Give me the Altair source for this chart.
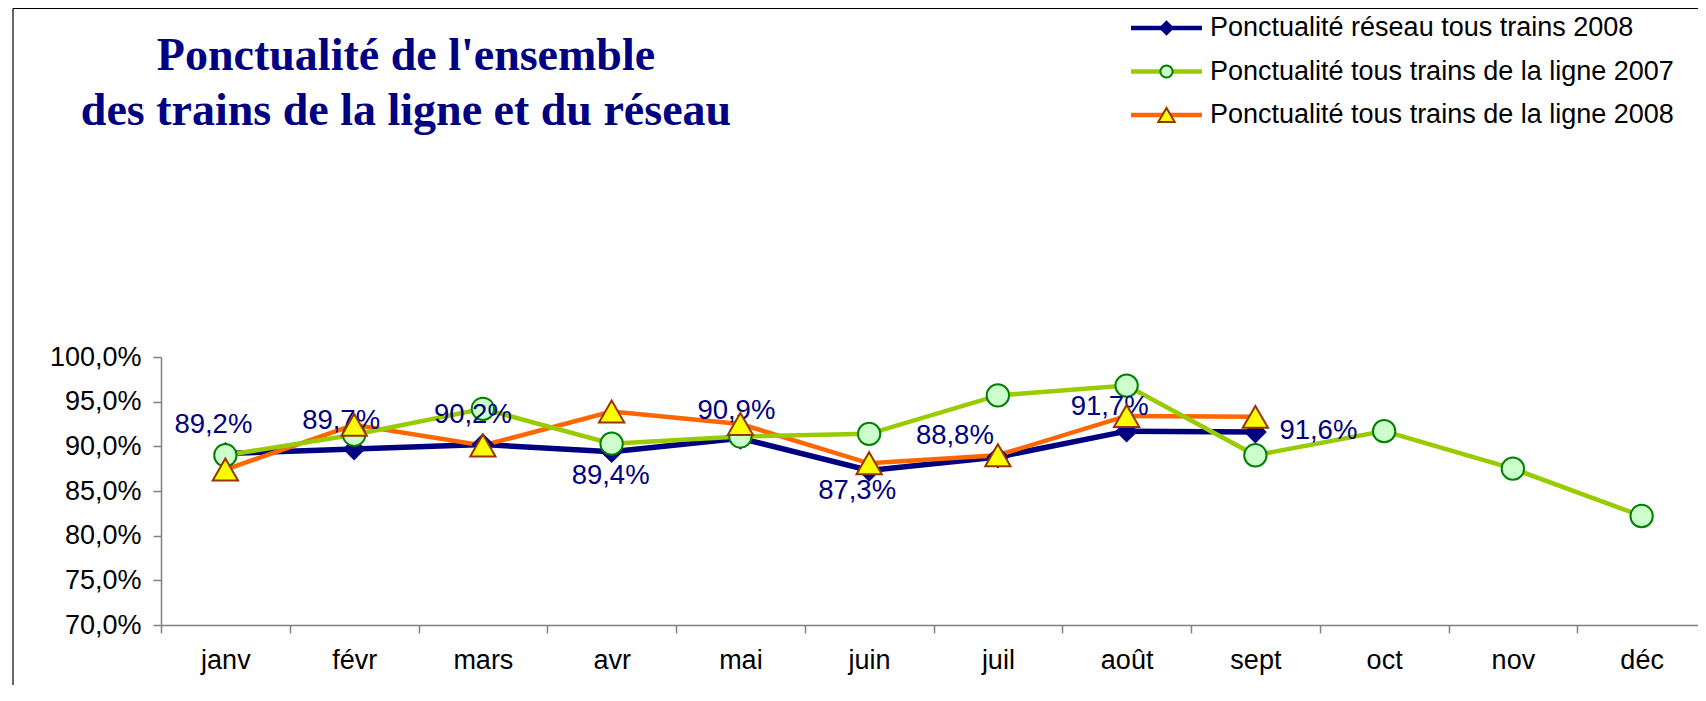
import altair as alt
import pandas as pd

# ---------------- data ----------------
months = ["janv", "févr", "mars", "avr", "mai", "juin", "juil", "août", "sept", "oct", "nov", "déc"]
series_names = [
    "Ponctualité réseau tous trains 2008",
    "Ponctualité tous trains de la ligne 2007",
    "Ponctualité tous trains de la ligne 2008",
]
reseau_2008 = [89.2, 89.7, 90.2, 89.4, 90.9, 87.3, 88.8, 91.7, 91.6]
ligne_2007 = [89.0, 91.3, 94.2, 90.3, 91.1, 91.4, 95.7, 96.8, 89.0, 91.7, 87.5, 82.2]
ligne_2008 = [87.4, 92.4, 90.1, 93.9, 92.5, 88.1, 89.0, 93.4, 93.3]
y_ticks = [70, 75, 80, 85, 90, 95, 100]
title_lines = ["Ponctualité de l'ensemble", "des trains de la ligne et du réseau"]

rows = []
for name, vals in zip(series_names, [reseau_2008, ligne_2007, ligne_2008]):
    for m, v in zip(months, vals):
        rows.append({"series": name, "month": m, "value": v})
df = pd.DataFrame(rows)

# ---------------- styles / layout ----------------
SANS = "Liberation Sans"
SERIF = "Liberation Serif"
GRAY = "#808080"
styles = {
    series_names[0]: dict(line="#000080", lw=5.5, shape="diamond", size=520, fill="#000080", stroke="#000080", sw=0, lsize=240),
    series_names[1]: dict(line="#99CC00", lw=4.5, shape="circle", size=500, fill="#CCFFCC", stroke="#008000", sw=2, lsize=150),
    series_names[2]: dict(line="#FF6600", lw=4.5, shape="triangle-up", size=640, fill="#FFFF00", stroke="#993300", sw=2, lsize=270),
}
label_offsets = {
    "janv": (-12, -28), "févr": (-13, -28), "mars": (-10, -30), "avr": (-1, 24),
    "mai": (-4, -27), "juin": (-12, 21), "juil": (-43, -21), "août": (-17, -24), "sept": (63, -1),
}
PLOT_W, PLOT_H = 1537, 268
X_RANGE = 1545

x_enc = alt.X(
    "month:N",
    scale=alt.Scale(type="band", domain=months, range=[0, X_RANGE], paddingInner=0, paddingOuter=0),
    bandPosition=0.5,
    axis=alt.Axis(
        title=None, labelAngle=0, tickBand="extent", grid=False,
        domainColor=GRAY, domainWidth=1.5, tickColor=GRAY, tickWidth=1.5, tickSize=8,
        labelFont=SANS, labelFontSize=27, labelColor="black", labelPadding=14,
    ),
)
y_enc = alt.Y(
    "value:Q",
    scale=alt.Scale(domain=[70, 100], zero=False, nice=False),
    axis=alt.Axis(
        title=None, values=y_ticks, grid=False,
        labelExpr="replace(format(datum.value, '.1f'), '.', ',') + '%'",
        domainColor=GRAY, domainWidth=1.5, tickColor=GRAY, tickWidth=1.5, tickSize=8,
        labelFont=SANS, labelFontSize=27, labelColor="black", labelPadding=12,
    ),
)

base = alt.Chart(df)


def line_layer(name):
    st = styles[name]
    return base.transform_filter(alt.datum.series == name).mark_line(
        color=st["line"], strokeWidth=st["lw"]
    ).encode(x=x_enc, y=y_enc)


def point_layer(name):
    st = styles[name]
    return base.transform_filter(alt.datum.series == name).mark_point(
        shape=st["shape"], size=st["size"], filled=True, fill=st["fill"],
        stroke=st["stroke"], strokeWidth=st["sw"], opacity=1,
    ).encode(x=x_enc, y=y_enc)


layers = [
    line_layer(series_names[0]),
    line_layer(series_names[2]),
    line_layer(series_names[1]),
    point_layer(series_names[0]),
    point_layer(series_names[1]),
]

for m, (dx, dy) in label_offsets.items():
    layers.append(
        base.transform_filter((alt.datum.series == series_names[0]) & (alt.datum.month == m))
        .transform_calculate(label="replace(format(datum.value, '.1f'), '.', ',') + '%'")
        .mark_text(dx=dx, dy=dy, font=SANS, fontSize=27.5, color="#000080", align="center", baseline="middle")
        .encode(x=x_enc, y=y_enc, text="label:N")
    )

layers.append(point_layer(series_names[2]))

# legend (top right)
legend_rows = [-329, -285.5, -242]
for i, name in enumerate(series_names):
    st = styles[name]
    ld = pd.DataFrame({"series": [name]})
    y = legend_rows[i]
    layers.append(alt.Chart(ld).mark_rule(color=st["line"], strokeWidth=4.5).encode(
        x=alt.value(970), x2=alt.value(1041), y=alt.value(y)))
    layers.append(alt.Chart(ld).mark_point(
        shape=st["shape"], size=st["lsize"], filled=True, fill=st["fill"],
        stroke=st["stroke"], strokeWidth=st["sw"], opacity=1,
    ).encode(x=alt.value(1005.5), y=alt.value(y)))
    layers.append(alt.Chart(ld).mark_text(
        align="left", baseline="middle", font=SANS, fontSize=27, color="black"
    ).encode(x=alt.value(1049), y=alt.value(y), text="series:N"))

# title
title_y = [-287.5, -232]
for i, t in enumerate(title_lines):
    layers.append(alt.Chart(pd.DataFrame({"t": [t]})).mark_text(
        font=SERIF, fontSize=46, fontWeight="bold", color="#000080",
        align="center", baseline="alphabetic",
    ).encode(x=alt.value(245), y=alt.value(title_y[i]), text="t:N"))

# chart frame (top-left corner visible)
one = pd.DataFrame({"k": [0]})
layers.append(alt.Chart(one).mark_rule(color="black", strokeWidth=1.2).encode(
    x=alt.value(-148), x2=alt.value(1700), y=alt.value(-348.5)))
layers.append(alt.Chart(one).mark_rule(color="black", strokeWidth=1.2).encode(
    x=alt.value(-148), y=alt.value(-348.5), y2=alt.value(400)))

chart = alt.layer(*layers).properties(
    width=PLOT_W,
    height=PLOT_H,
    autosize=alt.AutoSizeParams(type="none"),
    padding={"left": 153, "top": 349, "right": 0, "bottom": 60},
    background="white",
).configure_view(stroke=None)

chart.save("out.html", embed_options={"renderer": "svg", "actions": False})
